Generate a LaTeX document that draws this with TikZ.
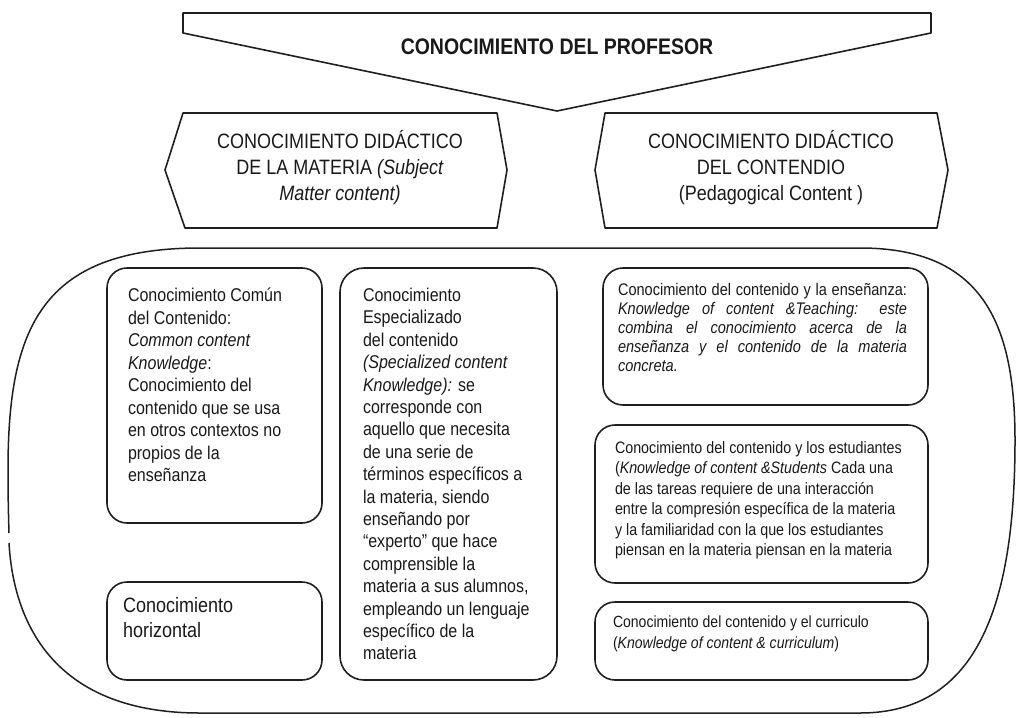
\documentclass[tikz,border=0pt]{standalone}
\usepackage{fontspec}
\setmainfont{Liberation Sans}[FakeStretch=0.866]
\newcommand\myfs[2]{\fontsize{#1}{#2}\selectfont}
\begin{document}
\begin{tikzpicture}[x=1pt,y=-1pt,line join=round,
  frame/.style={draw=black!88,line width=1.6pt},
  outline/.style={draw=black!88,line width=1.5pt},
  boxframe/.style={draw=black!88,line width=1.6pt,rounded corners=20pt},
  txt/.style={inner sep=0pt,outer sep=0pt,text=black!90}]
\useasboundingbox (0,0) rectangle (1016,717);
% banner
\draw[frame] (183,13) -- (931,13) -- (931,33) -- (557,111) -- (183,33) -- cycle;
\node[txt,anchor=base] (title) at (557,55) {\myfs{22.5}{26}\bfseries CONOCIMIENTO DEL PROFESOR};
% hexagons
\draw[frame] (183,113) -- (497,113) -- (507,170) -- (497,228) -- (185,228) -- (165,170) -- cycle;
\draw[frame] (605,113) -- (937,113) -- (948,170) -- (937,228) -- (605,228) -- (595,170) -- cycle;
\node[txt,anchor=base] (cdm) at (340,148.5) {\parbox[t]{320pt}{\centering\myfs{20.8}{26}CONOCIMIENTO DIDÁCTICO\\DE LA MATERIA \textit{(Subject}\\\textit{Matter content)}}};
\node[txt,anchor=base] (cdc) at (771,148.5) {\parbox[t]{320pt}{\centering\myfs{20.8}{26}CONOCIMIENTO DIDÁCTICO\\DEL CONTENDIO\\(Pedagogical Content )}};
% big outline (two strokes, small break on the left side)
\draw[outline] (9,533) .. controls (8,500) and (8,480) .. (8,470) .. controls (8,330) and (40,248) .. (200,248) -- (860,248) .. controls (980,248) and (1015,320) .. (1015,440) .. controls (1015,600) and (980,713) .. (860,713) -- (200,713) .. controls (60,713) and (14,630) .. (9,543);
% boxes
\draw[boxframe] (107,268) rectangle (322,523);
\draw[boxframe] (107,582) rectangle (322,680);
\draw[boxframe,rounded corners=24pt] (340,268) rectangle (557,680);
\draw[boxframe] (603,268) rectangle (928,405);
\draw[boxframe] (595,425) rectangle (928,583);
\draw[boxframe] (595,602) rectangle (928,680);
% box texts
\node[txt,anchor=base west] (cck) at (128,301.5) {\parbox[t]{190pt}{\raggedright\myfs{18.5}{22.5}Conocimiento Común\\del Contenido:\\\textit{Common content}\\\textit{Knowledge}:\\Conocimiento del\\contenido que se usa\\en otros contextos no\\propios de la\\enseñanza}};
\node[txt,anchor=base west] (hor) at (123,612) {\parbox[t]{190pt}{\raggedright\myfs{20.8}{25}Conocimiento\\horizontal}};
\node[txt,anchor=base west] (sck) at (363,301.5) {\parbox[t]{190pt}{\raggedright\myfs{18.5}{22.4}Conocimiento\\Especializado\\del contenido\\\textit{(Specialized content}\\\textit{Knowledge):} se\\corresponde con\\aquello que necesita\\de una serie de\\términos específicos a\\la materia, siendo\\enseñando por\\“experto” que hace\\comprensible la\\materia a sus alumnos,\\empleando un lenguaje\\específico de la\\materia}};
\node[txt,anchor=base west] (kct) at (618,295.5) {\parbox[t]{289pt}{\myfs{16.8}{19}\makebox[289pt][s]{Conocimiento del contenido y la enseñanza:}\\\makebox[289pt][s]{\itshape Knowledge of content \&Teaching: este}\\\makebox[289pt][s]{\itshape combina el conocimiento acerca de la}\\\makebox[289pt][s]{\itshape enseñanza y el contenido de la materia}\\\textit{concreta.}}};
\node[txt,anchor=base west] (kcs) at (615,453.5) {\parbox[t]{305pt}{\raggedright\myfs{16.5}{20.4}Conocimiento del contenido y los estudiantes\\(\textit{Knowledge of content \&Students} Cada una\\de las tareas requiere de una interacción\\entre la compresión específica de la materia\\y la familiaridad con la que los estudiantes\\piensan en la materia piensan en la materia}};
\node[txt,anchor=base west] (kcc) at (613,627.5) {\parbox[t]{305pt}{\raggedright\myfs{16.2}{21}Conocimiento del contenido y el curriculo\\(\textit{Knowledge of content \& curriculum})}};
\end{tikzpicture}
\end{document}
